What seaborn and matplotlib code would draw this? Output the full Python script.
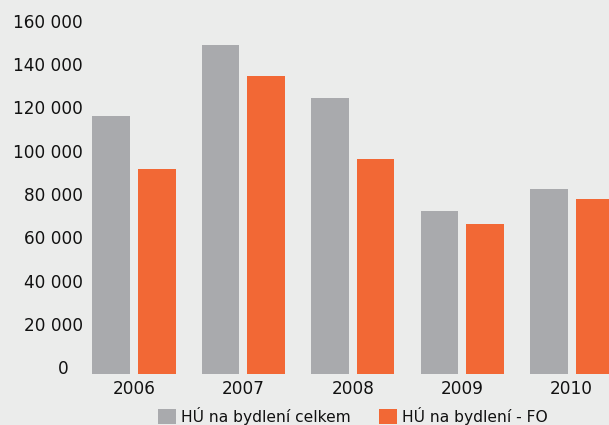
import matplotlib
matplotlib.use("Agg")
import matplotlib.pyplot as plt
import seaborn as sns
import pandas as pd

years = ["2006", "2007", "2008", "2009", "2010"]
series_names = ["HÚ na bydlení celkem", "HÚ na bydlení - FO"]
total = [119300, 152100, 127600, 75400, 85500]
fo = [94800, 137800, 99400, 69400, 80900]
y_ticks = [0, 20000, 40000, 60000, 80000, 100000, 120000, 140000, 160000]
y_tick_labels = ["0", "20 000", "40 000", "60 000", "80 000",
                 "100 000", "120 000", "140 000", "160 000"]

bg = "#EBECEB"
palette = {series_names[0]: "#A9AAAD", series_names[1]: "#F26835"}

df = pd.DataFrame({
    "rok": years * 2,
    "serie": [series_names[0]] * len(years) + [series_names[1]] * len(years),
    "hodnota": total + fo,
})

sns.set_theme(style="white")
plt.rcParams["font.family"] = ["DejaVu Sans"]

W, H = 609, 425
fig = plt.figure(figsize=(W / 100, H / 100), dpi=100, facecolor=bg)
base_px = 374
ax = fig.add_axes([0, 1 - base_px / H, 1, base_px / H])
ax.set_facecolor(bg)

sns.barplot(data=df, x="rok", y="hodnota", hue="serie", order=years,
            hue_order=series_names, palette=palette, width=0.832, gap=0.176,
            saturation=1, errorbar=None, linewidth=0, edgecolor="none",
            ax=ax, legend=True)

# pixel geometry of the category axis: first group centre and spacing
px_per_cat = 109.4
first_center = 134
ax.set_xlim(-first_center / px_per_cat, (W - first_center) / px_per_cat)
px_per_unit = 2.1625 / 1000
ax.set_ylim(0, base_px / px_per_unit)

for s in ax.spines.values():
    s.set_visible(False)
ax.set_xlabel("")
ax.set_ylabel("")
ax.set_yticks([])
ax.tick_params(axis="x", length=0, pad=4, labelsize=12.2, labelcolor="#111111")

for val, lab in zip(y_ticks, y_tick_labels):
    x_right = 83 if lab != "0" else 69
    ax.text(x_right / W, val, lab, transform=ax.get_yaxis_transform(),
            ha="right", va="baseline", fontsize=12.2, color="#111111")

handles, labels = ax.get_legend_handles_labels()
ax.legend(handles, labels, loc="upper left",
          bbox_to_anchor=(158 / W, 1 - 407 / H), bbox_transform=fig.transFigure,
          ncol=2, frameon=False, fontsize=11.2, handlelength=1.15,
          handleheight=1.15, handletextpad=0.3, columnspacing=1.85,
          borderpad=0, borderaxespad=0, labelcolor="#111111")

fig.savefig("out.png", dpi=100, facecolor=bg)
